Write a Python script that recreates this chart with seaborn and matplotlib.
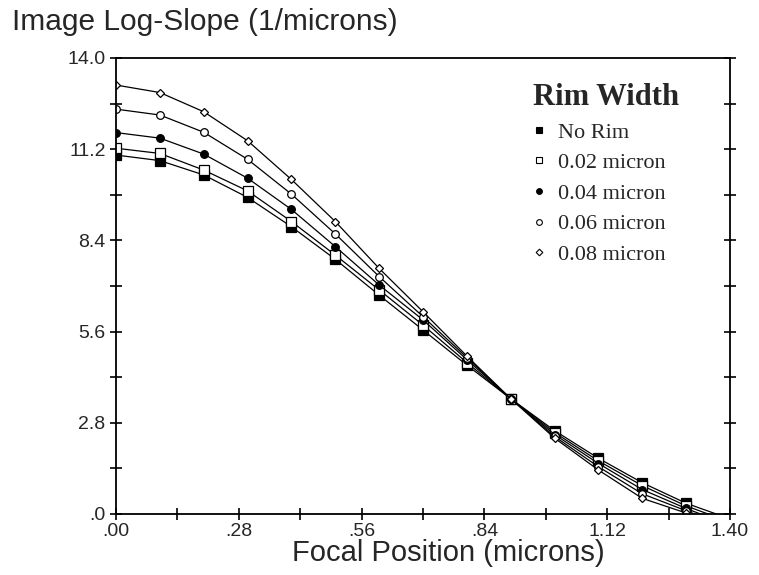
import numpy as np
import pandas as pd
import matplotlib
matplotlib.use('Agg')
import matplotlib.pyplot as plt
from matplotlib.lines import Line2D
from matplotlib.ticker import FixedLocator
import seaborn as sns

# Focal position (microns)
focal = [0.0, 0.1, 0.2, 0.3, 0.4, 0.5, 0.6, 0.7, 0.8, 0.9, 1.0, 1.1, 1.2, 1.3, 1.4]

# Image log-slope for each rim width
no_rim = [11.02, 10.85, 10.41, 9.72, 8.82, 7.82, 6.72, 5.65, 4.57, 3.54, 2.56, 1.71, 0.96, 0.33, -0.15]
rim_002 = [11.23, 11.07, 10.56, 9.92, 8.98, 7.95, 6.88, 5.80, 4.65, 3.54, 2.50, 1.63, 0.87, 0.25, -0.25]
rim_004 = [11.71, 11.54, 11.05, 10.31, 9.35, 8.21, 7.03, 5.96, 4.74, 3.54, 2.44, 1.55, 0.75, 0.17, -0.35]
rim_006 = [12.43, 12.25, 11.72, 10.89, 9.82, 8.60, 7.29, 6.06, 4.80, 3.54, 2.38, 1.45, 0.62, 0.10, -0.40]
rim_008 = [13.17, 12.94, 12.35, 11.46, 10.27, 8.98, 7.54, 6.21, 4.85, 3.54, 2.33, 1.35, 0.48, 0.03, -0.45]

labels = ['No Rim', '0.02 micron', '0.04 micron', '0.06 micron', '0.08 micron']
series = [no_rim, rim_002, rim_004, rim_006, rim_008]

xticks = [0, 0.28, 0.56, 0.84, 1.12, 1.40]
xticklabels = ['.00', '.28', '.56', '.84', '1.12', '1.40']
yticks = [0, 2.8, 5.6, 8.4, 11.2, 14.0]
yticklabels = ['.0', '2.8', '5.6', '8.4', '11.2', '14.0']

# marker, filled?, size
styles = [('s', True, 6.5), ('s', False, 6.5), ('o', True, 5.5), ('o', False, 5.5), ('D', False, 4.5)]

sns.set_style('ticks')
plt.rcParams['font.family'] = ['Liberation Sans', 'DejaVu Sans']

fig = plt.figure(figsize=(7.59, 5.75), dpi=100)
ax = fig.add_axes([116 / 759, 1 - 514 / 575, (730 - 116) / 759, (514 - 58) / 575])

for lab, vals, (mk, filled, ms) in zip(labels, series, styles):
    df = pd.DataFrame({'x': focal, 'y': vals})
    sns.lineplot(data=df, x='x', y='y', ax=ax, color='black', lw=0.9,
                 marker=mk, markersize=ms, markeredgecolor='black',
                 markerfacecolor='black' if filled else 'white',
                 markeredgewidth=0.9, markevery=slice(0, 14), legend=False)

ax.set_xlim(0, 1.4)
ax.set_ylim(0, 14)
ax.xaxis.set_major_locator(FixedLocator(xticks))
ax.xaxis.set_minor_locator(FixedLocator([0.14, 0.42, 0.70, 0.98, 1.26]))
ax.yaxis.set_major_locator(FixedLocator(yticks))
ax.yaxis.set_minor_locator(FixedLocator([1.4, 4.2, 7.0, 9.8, 12.6]))
ax.set_xticklabels(xticklabels)
ax.set_yticklabels(yticklabels)

ax.tick_params(which='both', direction='inout', length=9, width=1.2, color='black',
               right=True, top=False, labelsize=14)
ax.tick_params(axis='x', which='both', pad=2)
ax.tick_params(axis='y', which='both', pad=3)
for s in ax.spines.values():
    s.set_visible(True)
    s.set_linewidth(1.3)
    s.set_color('black')

ax.set_xlabel('')
ax.set_ylabel('')
fig.text(448 / 759, 1 - 553 / 575, 'Focal Position (microns)', fontsize=21,
         ha='center', va='center')
fig.text(12 / 759, 1 - 22 / 575, 'Image Log-Slope (1/microns)', fontsize=21.5,
         ha='left', va='center')

handles = [Line2D([], [], linestyle='none', marker=mk, markersize=ms * 0.75,
                  markeredgecolor='black', markeredgewidth=0.8,
                  markerfacecolor='black' if filled else 'white')
           for mk, filled, ms in styles]
leg = ax.legend(handles, labels, title='Rim Width', loc='upper left',
                bbox_to_anchor=(522 / 759, 1 - 72 / 575), bbox_transform=fig.transFigure,
                frameon=False, prop={'family': 'Liberation Serif', 'size': 16},
                handlelength=0.5, handletextpad=0.6, labelspacing=0.45,
                alignment='left', borderpad=0)
leg.get_title().set_fontfamily('Liberation Serif')
leg.get_title().set_fontweight('bold')
leg.get_title().set_fontsize(22)

fig.savefig('out.png', dpi=100)
